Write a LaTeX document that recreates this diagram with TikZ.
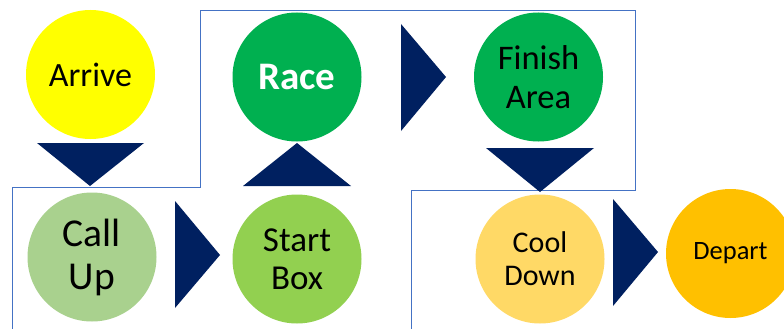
\documentclass[tikz,border=0pt]{standalone}
\usepackage{fontspec}
\setmainfont{Carlito}
\begin{document}
\begin{tikzpicture}[x=1pt,y=-1pt,
  stage/.style={circle,inner sep=0pt,minimum size=129pt,align=center,text=black},
  tri/.style={fill=arrowblue,draw=none},
  frame/.style={draw=frameblue,line width=0.9pt}]
\definecolor{arrowblue}{HTML}{002060}
\definecolor{frameblue}{HTML}{4472C4}
\definecolor{cyellow}{HTML}{FFFF00}
\definecolor{cgreen}{HTML}{00B050}
\definecolor{clight}{HTML}{A9D18E}
\definecolor{cmid}{HTML}{92D050}
\definecolor{ccool}{HTML}{FFD966}
\definecolor{cdep}{HTML}{FFC000}
\useasboundingbox (0,0) rectangle (784,329);
\fill[white] (0,0) rectangle (784,329);
% frame outline
\draw[frame] (12,335) -- (12,187) -- (200,187) -- (200,10) -- (635,10) -- (635,190) -- (411,190) -- (411,335);
% circles
\node[stage,fill=cyellow,font=\fontsize{34}{40}\selectfont] (arrive) at (90.5,74.5) {Arrive};
\node[stage,fill=cgreen,text=white,font=\bfseries\fontsize{39}{44}\selectfont] (race) at (297,77) {Race};
\node[stage,fill=clight,font=\fontsize{39.5}{43}\selectfont] (callup) at (92,257) {Call\\Up};
\node[stage,fill=cmid,font=\fontsize{35}{38}\selectfont] (startbox) at (297,259) {Start\\Box};
\node[stage,fill=cgreen,font=\fontsize{34.5}{39}\selectfont] (finish) at (538.5,77) {Finish\\Area};
\node[stage,fill=ccool,font=\fontsize{30}{33}\selectfont] (cool) at (540,259) {Cool\\Down};
\node[stage,fill=cdep,font=\fontsize{26.5}{30}\selectfont] (depart) at (730.5,253.5) {Depart};
% triangles
\fill[tri] (37,143) -- (144,143) -- (90,186) -- cycle;
\fill[tri] (243,186) -- (351,186) -- (297,143) -- cycle;
\fill[tri] (175,201) -- (175,308) -- (220,255) -- cycle;
\fill[tri] (401,24) -- (401,131) -- (446,77) -- cycle;
\fill[tri] (486,148) -- (594,148) -- (540,192) -- cycle;
\fill[tri] (613,199) -- (613,306) -- (658,252) -- cycle;
\end{tikzpicture}
\end{document}
